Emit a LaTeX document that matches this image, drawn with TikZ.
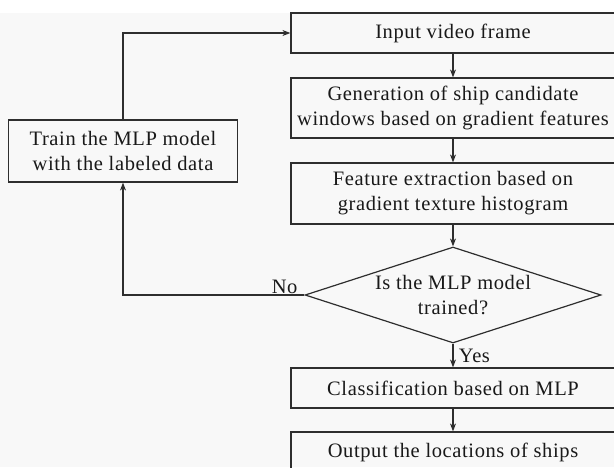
\documentclass[tikz,border=0pt]{standalone}
\usepackage{fontspec}
\setmainfont[LetterSpace=3]{Liberation Serif}
\usetikzlibrary{arrows.meta, positioning, shapes.geometric}
\definecolor{bgGray}{HTML}{F8F8F8}
\definecolor{lineGray}{HTML}{2E2E2E}

\begin{document}
\begin{tikzpicture}[x=1pt, y=-1pt,
    every node/.style={font=\fontsize{20.5}{25}\selectfont, text=black!90},
    box/.style={draw=lineGray, line width=1.2pt, minimum width=324pt, align=center, inner sep=0pt},
    arr/.style={-{Stealth[length=8pt, width=6pt]}, line width=1.1pt, draw=lineGray}]
    % page
    \useasboundingbox (0,0) rectangle (614,467);
    \fill[bgGray] (0,13) rectangle (614,467);
    % main column
    \foreach \nm/\y/\h/\txt in {input/33/40/{Input video frame},
        cand/108/60/{Generation of ship candidate\\windows based on gradient features},
        feat/193.5/61/{Feature extraction based on\\gradient texture histogram},
        classify/388/40/{Classification based on MLP},
        output/452/40/{Output the locations of ships}} {
      \node[box, minimum height=\h pt] (\nm) at (453,\y) {\txt};
    }
    % decision
    \node[diamond, draw=lineGray, line width=1.2pt, aspect=3.08, minimum width=296pt, minimum height=96pt,
          inner sep=0pt, align=center] (decide) at (453,295) {Is the MLP model\\trained?};
    % training
    \node[box, minimum width=229pt, minimum height=62pt] (train) at (123,151) {Train the MLP model\\with the labeled data};
    \foreach \a/\b in {input/cand, cand/feat, feat/decide, classify/output} {
      \draw[arr] (\a) -- (\b);
    }
    \draw[arr] (decide) -- node[right, xshift=2pt] {Yes} (classify);
    \draw[arr] (decide.west) node[above left, xshift=-3pt, yshift=-3pt] {No} -| (train.south);
    \draw[arr] (train.north) |- (input.west);
  \end{tikzpicture}
\end{document}
